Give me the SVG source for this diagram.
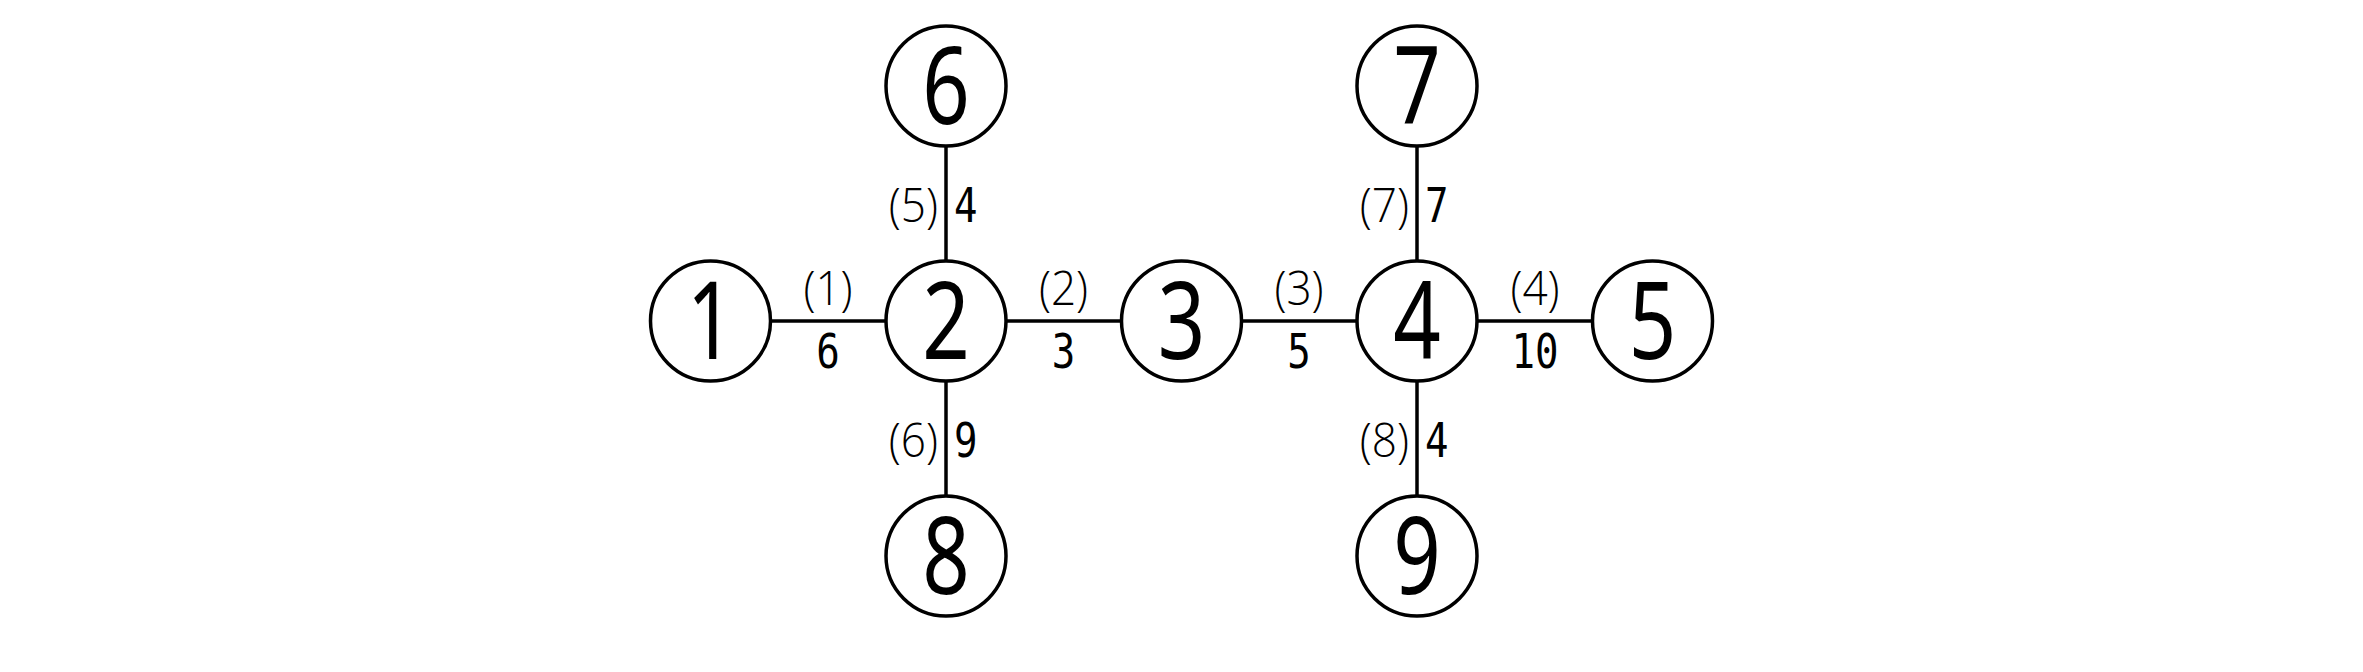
<svg xmlns="http://www.w3.org/2000/svg" width="2363" height="672" viewBox="0 0 2363 672">
<style>
.node circle{fill:#fff;stroke:#000;stroke-width:3.5}
.nl{font-family:"Noto Sans","Open Sans",sans-serif;font-size:104px;fill:#000;text-anchor:middle}
.edges line{stroke:#000;stroke-width:3.5}
.el{font-family:"Open Sans","Noto Sans",sans-serif;font-weight:300;font-size:48px;fill:#000}
.w{font-family:"DejaVu Sans Mono",monospace;font-size:46px;fill:#000}
.mid{text-anchor:middle}
.end{text-anchor:end}
</style>
<rect width="2363" height="672" fill="#fff"/>
<g class="edges" id="edges">
<line x1="770.5" y1="321" x2="886" y2="321"/>
<line x1="1006" y1="321" x2="1121.5" y2="321"/>
<line x1="1241.5" y1="321" x2="1357" y2="321"/>
<line x1="1477" y1="321" x2="1592.5" y2="321"/>
<line x1="946" y1="146" x2="946" y2="261"/>
<line x1="946" y1="381" x2="946" y2="496"/>
<line x1="1417" y1="146" x2="1417" y2="261"/>
<line x1="1417" y1="381" x2="1417" y2="496"/>
<text class="el mid" transform="translate(828,305) scale(0.92,1)">(1)</text>
<text class="w mid" transform="translate(828,368) scale(0.85,1.04)">6</text>
<text class="el mid" transform="translate(1063.5,305) scale(0.92,1)">(2)</text>
<text class="w mid" transform="translate(1063.5,368) scale(0.85,1.04)">3</text>
<text class="el mid" transform="translate(1299,305) scale(0.92,1)">(3)</text>
<text class="w mid" transform="translate(1299,368) scale(0.85,1.04)">5</text>
<text class="el mid" transform="translate(1535,305) scale(0.92,1)">(4)</text>
<text class="w mid" transform="translate(1535,368) scale(0.85,1.04)">10</text>
<text class="el end" transform="translate(938,222) scale(0.92,1)">(5)</text>
<text class="w" transform="translate(954,222) scale(0.85,1.04)">4</text>
<text class="el end" transform="translate(938,457) scale(0.92,1)">(6)</text>
<text class="w" transform="translate(954,457) scale(0.85,1.04)">9</text>
<text class="el end" transform="translate(1409,222) scale(0.92,1)">(7)</text>
<text class="w" transform="translate(1425,222) scale(0.85,1.04)">7</text>
<text class="el end" transform="translate(1409,457) scale(0.92,1)">(8)</text>
<text class="w" transform="translate(1425,457) scale(0.85,1.04)">4</text>
</g>
<g class="node" id="n1"><circle cx="710.5" cy="321" r="60"/><text class="nl" transform="translate(710.5,359) scale(0.8,1.03)">1</text></g>
<g class="node" id="n2"><circle cx="946" cy="321" r="60"/><text class="nl" transform="translate(946,359) scale(0.8,1.03)">2</text></g>
<g class="node" id="n3"><circle cx="1181.5" cy="321" r="60"/><text class="nl" transform="translate(1181.5,359) scale(0.8,1.03)">3</text></g>
<g class="node" id="n4"><circle cx="1417" cy="321" r="60"/><text class="nl" transform="translate(1417,359) scale(0.8,1.03)">4</text></g>
<g class="node" id="n5"><circle cx="1652.5" cy="321" r="60"/><text class="nl" transform="translate(1652.5,359) scale(0.8,1.03)">5</text></g>
<g class="node" id="n6"><circle cx="946" cy="86" r="60"/><text class="nl" transform="translate(946,124) scale(0.8,1.03)">6</text></g>
<g class="node" id="n7"><circle cx="1417" cy="86" r="60"/><text class="nl" transform="translate(1417,124) scale(0.8,1.03)">7</text></g>
<g class="node" id="n8"><circle cx="946" cy="556" r="60"/><text class="nl" transform="translate(946,594) scale(0.8,1.03)">8</text></g>
<g class="node" id="n9"><circle cx="1417" cy="556" r="60"/><text class="nl" transform="translate(1417,594) scale(0.8,1.03)">9</text></g>
</svg>
